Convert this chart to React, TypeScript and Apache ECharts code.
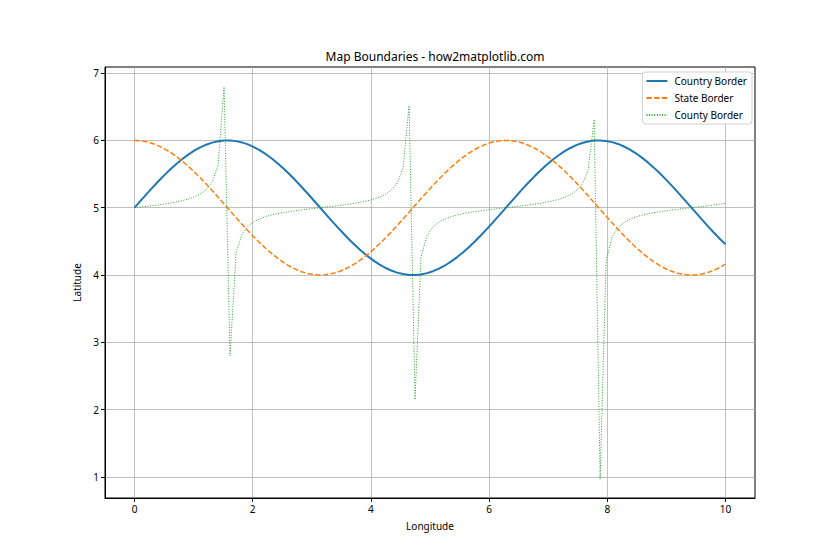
import React, { useEffect, useRef } from "react";
import * as echarts from "echarts";

const longitude = [
  0, 0.101, 0.202, 0.303, 0.404, 0.505, 0.606, 0.707, 0.808, 0.909,
  1.010, 1.111, 1.212, 1.313, 1.414, 1.515, 1.616, 1.717, 1.818, 1.919,
  2.020, 2.121, 2.222, 2.323, 2.424, 2.525, 2.626, 2.727, 2.828, 2.929,
  3.030, 3.131, 3.232, 3.333, 3.434, 3.535, 3.636, 3.737, 3.838, 3.939,
  4.040, 4.141, 4.242, 4.343, 4.444, 4.545, 4.646, 4.747, 4.848, 4.949,
  5.051, 5.152, 5.253, 5.354, 5.455, 5.556, 5.657, 5.758, 5.859, 5.960,
  6.061, 6.162, 6.263, 6.364, 6.465, 6.566, 6.667, 6.768, 6.869, 6.970,
  7.071, 7.172, 7.273, 7.374, 7.475, 7.576, 7.677, 7.778, 7.879, 7.980,
  8.081, 8.182, 8.283, 8.384, 8.485, 8.586, 8.687, 8.788, 8.889, 8.990,
  9.091, 9.192, 9.293, 9.394, 9.495, 9.596, 9.697, 9.798, 9.899, 10.0,
];

const countryBorder = [
  5.000, 5.101, 5.201, 5.298, 5.393, 5.484, 5.570, 5.650, 5.723, 5.789,
  5.847, 5.896, 5.936, 5.967, 5.988, 5.998, 5.999, 5.989, 5.970, 5.940,
  5.901, 5.852, 5.795, 5.730, 5.657, 5.578, 5.493, 5.403, 5.308, 5.211,
  5.111, 5.010, 4.909, 4.809, 4.711, 4.616, 4.525, 4.439, 4.358, 4.284,
  4.217, 4.159, 4.108, 4.067, 4.036, 4.014, 4.002, 4.001, 4.009, 4.028,
  4.057, 4.095, 4.142, 4.199, 4.263, 4.335, 4.414, 4.498, 4.588, 4.682,
  4.779, 4.879, 4.979, 5.080, 5.180, 5.279, 5.374, 5.466, 5.553, 5.634,
  5.709, 5.776, 5.836, 5.887, 5.929, 5.962, 5.984, 5.997, 6.000, 5.992,
  5.974, 5.947, 5.909, 5.863, 5.808, 5.744, 5.673, 5.595, 5.511, 5.421,
  5.328, 5.231, 5.131, 5.031, 4.930, 4.830, 4.731, 4.635, 4.543, 4.456,
];

const stateBorder = [
  6.000, 5.995, 5.980, 5.954, 5.919, 5.875, 5.822, 5.760, 5.691, 5.614,
  5.532, 5.444, 5.351, 5.255, 5.156, 5.056, 4.955, 4.854, 4.755, 4.659,
  4.566, 4.477, 4.394, 4.317, 4.247, 4.184, 4.130, 4.085, 4.049, 4.022,
  4.006, 4.000, 4.004, 4.018, 4.043, 4.077, 4.120, 4.172, 4.233, 4.302,
  4.378, 4.460, 4.547, 4.639, 4.735, 4.834, 4.934, 5.035, 5.136, 5.235,
  5.332, 5.425, 5.514, 5.598, 5.676, 5.747, 5.810, 5.865, 5.911, 5.948,
  5.975, 5.993, 6.000, 5.997, 5.984, 5.960, 5.927, 5.885, 5.833, 5.773,
  5.706, 5.631, 5.549, 5.462, 5.370, 5.275, 5.176, 5.076, 4.975, 4.875,
  4.775, 4.678, 4.584, 4.495, 4.410, 4.332, 4.260, 4.196, 4.140, 4.093,
  4.055, 4.027, 4.009, 4.000, 4.002, 4.015, 4.037, 4.069, 4.110, 4.161,
];

const countyBorder = [
  5.000, 5.010, 5.020, 5.031, 5.043, 5.055, 5.069, 5.085, 5.105, 5.128,
  5.159, 5.202, 5.267, 5.380, 5.633, 6.795, 2.797, 4.322, 4.604, 4.725,
  4.793, 4.837, 4.869, 4.893, 4.913, 4.929, 4.943, 4.956, 4.968, 4.978,
  4.989, 4.999, 5.009, 5.019, 5.030, 5.042, 5.054, 5.068, 5.084, 5.103,
  5.126, 5.156, 5.197, 5.259, 5.364, 5.593, 6.515, 2.150, 4.270, 4.586,
  4.716, 4.787, 4.833, 4.866, 4.891, 4.911, 4.928, 4.942, 4.955, 4.967,
  4.977, 4.988, 4.998, 5.008, 5.018, 5.029, 5.040, 5.053, 5.066, 5.082,
  5.100, 5.123, 5.152, 5.192, 5.251, 5.350, 5.558, 6.310, 0.971, 4.209,
  4.567, 4.706, 4.781, 4.829, 4.863, 4.889, 4.909, 4.926, 4.941, 4.954,
  4.965, 4.976, 4.987, 4.997, 5.007, 5.017, 5.028, 5.039, 5.051, 5.065,
];

const xTicks = [0, 2, 4, 6, 8, 10];
const yTicks = [1, 2, 3, 4, 5, 6, 7];

const FONT = "Noto Sans";

export default function App() {
  const ref = useRef<HTMLDivElement>(null);
  useEffect(() => {
    if (!ref.current) return;
    const chart = echarts.init(ref.current, null, { renderer: "svg" });
    const pair = (ys: number[]) => longitude.map((x, i) => [x, ys[i]]);
    const axisCommon = {
      axisTick: { show: true, inside: false, length: 4, lineStyle: { color: "#000", width: 1 } },
      axisLabel: { color: "#000", fontSize: 10, fontFamily: FONT, margin: 6 },
      splitLine: { show: true, lineStyle: { color: "#b0b0b0", width: 0.8 } },
      nameTextStyle: { color: "#000", fontSize: 10, fontFamily: FONT },
    };
    chart.setOption({
      animation: false,
      backgroundColor: "#fff",
      title: {
        text: "Map Boundaries - how2matplotlib.com",
        left: 430,
        top: 45,
        textAlign: "center",
        textStyle: { fontSize: 12, fontWeight: "normal", color: "#000", fontFamily: FONT },
      },
      grid: {
        left: 105,
        right: 85,
        top: 67,
        bottom: 62,
        show: true,
        borderColor: "#000",
        borderWidth: 1,
        backgroundColor: "transparent",
      },
      legend: {
        orient: "vertical",
        right: 88,
        top: 72,
        backgroundColor: "#fff",
        borderColor: "#d0d0d0",
        borderWidth: 1,
        borderRadius: 3,
        padding: [4, 5, 4, 3],
        itemWidth: 21,
        itemHeight: 10,
        itemGap: 7,
        itemStyle: { opacity: 0 },
        textStyle: { fontSize: 10, fontFamily: FONT, color: "#000", padding: [0, 0, 0, 2] },
        data: ["Country Border", "State Border", "County Border"],
      },
      xAxis: {
        type: "value",
        min: -0.5,
        max: 10.5,
        name: "Longitude",
        nameLocation: "middle",
        nameGap: 23,
        ...axisCommon,
        axisLine: { show: true, onZero: false, lineStyle: { color: "#000", width: 1 } },
        axisTick: { ...axisCommon.axisTick, customValues: xTicks },
        axisLabel: { ...axisCommon.axisLabel, customValues: xTicks },
      },
      yAxis: {
        type: "value",
        min: 0.688,
        max: 7.09,
        name: "Latitude",
        nameLocation: "middle",
        nameGap: 20,
        ...axisCommon,
        axisLine: { show: true, onZero: false, lineStyle: { color: "#000", width: 1 } },
        axisTick: { ...axisCommon.axisTick, customValues: yTicks },
        axisLabel: { ...axisCommon.axisLabel, customValues: yTicks },
      },
      series: [
        {
          name: "Country Border",
          type: "line",
          data: pair(countryBorder),
          symbol: "none",
          lineStyle: { color: "#1f77b4", width: 2 },
          itemStyle: { color: "#1f77b4" },
          z: 2,
        },
        {
          name: "State Border",
          type: "line",
          data: pair(stateBorder),
          symbol: "none",
          lineStyle: { color: "#ff7f0e", width: 1.5, type: [5.4, 2.3] },
          itemStyle: { color: "#ff7f0e" },
          z: 3,
        },
        {
          name: "County Border",
          type: "line",
          data: pair(countyBorder),
          symbol: "none",
          lineStyle: { color: "#2ca02c", width: 1, type: [1, 1.6] },
          itemStyle: { color: "#2ca02c" },
          z: 4,
        },
      ],
    });
    return () => chart.dispose();
  }, []);
  return <div ref={ref} style={{ width: 840, height: 560, margin: -8 }} />;
}
